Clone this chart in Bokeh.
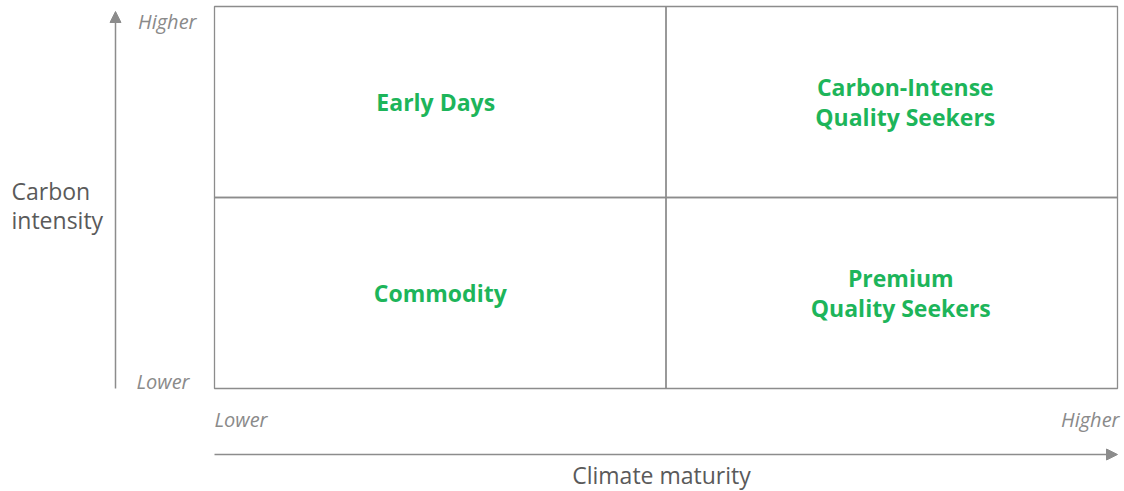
from bokeh.plotting import figure
from bokeh.models import Range1d, Arrow, NormalHead, ColumnDataSource
from bokeh.core.properties import value
from bokeh.embed import file_html
from bokeh.resources import INLINE

# ---- data ----
quad_names = ["Early Days", "Carbon-Intense\nQuality Seekers", "Commodity", "Premium\nQuality Seekers"]
quad_left = [0, 1, 0, 1]
quad_right = [1, 2, 1, 2]
quad_bottom = [1, 1, 0, 0]
quad_top = [2, 2, 1, 1]
label_x = [0.49, 1.53, 0.50, 1.52]
label_y = [1.5, 1.5, 0.5, 0.5]
x_axis_title = "Climate maturity"
y_axis_title = "Carbon\nintensity"
low_label = "Lower"
high_label = "Higher"

# ---- layout (page pixels) ----
ORG = 0
W, H = 1122, 490
BOX_L, BOX_R, BOX_T, BOX_B = 214, 1117, 6, 388
sx = (BOX_R - BOX_L) / 2.0
sy = (BOX_B - BOX_T) / 2.0


def dx(px):
    return (px - BOX_L) / sx


def dy(py):
    return (BOX_B - py) / sy


p = figure(width=W, height=H, output_backend="svg", toolbar_location=None,
           x_range=Range1d(dx(ORG), dx(ORG + W)), y_range=Range1d(dy(ORG + H), dy(ORG)),
           min_border=0, outline_line_color=None)
p.axis.visible = False
p.grid.visible = False
p.background_fill_color = "white"
p.border_fill_color = "white"

GREEN = "#1db55a"
LINE = "#8c8c8c"
ITAL = "#8a8a8a"
TITLE = "#5a5a5a"
FONT = value("Open Sans")

src = ColumnDataSource(dict(left=quad_left, right=quad_right, bottom=quad_bottom, top=quad_top,
                            name=quad_names, lx=label_x, ly=label_y))
p.quad(left="left", right="right", bottom="bottom", top="top", source=src,
       fill_color=None, line_color=LINE, line_width=1.3)
p.text(x="lx", y="ly", text="name", source=src, text_align="center", text_baseline="middle",
       text_color=GREEN, text_font=FONT, text_font_style="bold", text_font_size="23px",
       text_line_height=0.93)

# arrows
head = dict(size=11, fill_color=LINE, line_color=LINE)
p.add_layout(Arrow(end=NormalHead(**head), x_start=dx(115), y_start=dy(388), x_end=dx(115), y_end=dy(11),
                   line_color=LINE, line_width=1.5))
p.add_layout(Arrow(end=NormalHead(**head), x_start=dx(214), y_start=dy(454), x_end=dx(1117), y_end=dy(454),
                   line_color=LINE, line_width=1.5))

# end labels
ital = dict(text_baseline="middle", text_color=ITAL, text_font=FONT, text_font_style="italic",
            text_font_size="20px")
p.text(x=[dx(196), dx(189)], y=[dy(21), dy(381)], text=[high_label, low_label], text_align="right", **ital)
p.text(x=[dx(214)], y=[dy(419)], text=[low_label], text_align="left", **ital)
p.text(x=[dx(1119)], y=[dy(419)], text=[high_label], text_align="right", **ital)

# axis titles
p.text(x=[dx(661)], y=[dy(474)], text=[x_axis_title], text_align="center", text_baseline="middle",
       text_color=TITLE, text_font=FONT, text_font_size="23px")
p.text(x=[dx(11)], y=[dy(205)], text=[y_axis_title], text_align="left", text_baseline="middle",
       text_color=TITLE, text_font=FONT, text_font_size="23px", text_line_height=0.93)

open("out.html", "w").write(file_html(p, INLINE))
